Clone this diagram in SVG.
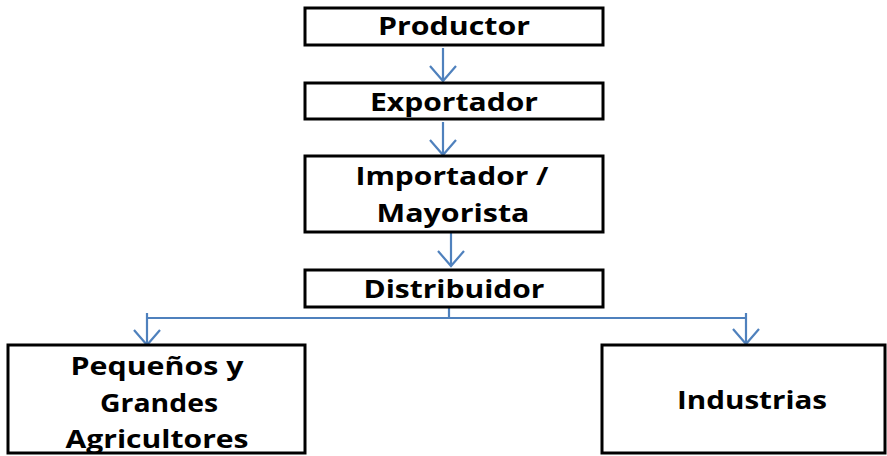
<svg xmlns="http://www.w3.org/2000/svg" width="887" height="456" viewBox="0 0 887 456">
<style>
.box{fill:#fff;stroke:#000;stroke-width:3}
.lbl{font-family:"Open Sans","Liberation Sans",sans-serif;font-weight:bold;font-size:24.5px;fill:#000;text-anchor:middle}
.con{fill:none;stroke:#4F81BD;stroke-width:2.2}
</style>
<rect width="887" height="456" fill="#fff"/>
<g id="connectors">
<path class="con" d="M443,48 V81 M430,66 L443,81 L456,66"/>
<path class="con" d="M443,122 V155 M430,140 L443,155 L456,140"/>
<path class="con" d="M451,233 V266 M438,251 L451,266 L464,251"/>
<path class="con" d="M449,307 V318 M147,318 H746"/>
<path class="con" d="M147,313 V345 M134,330 L147,345 L160,330"/>
<path class="con" d="M746,313 V344 M733,329 L746,344 L759,329"/>
</g>
<g id="productor"><rect class="box" x="305" y="8" width="298" height="37"/><text class="lbl" x="454" y="35" textLength="152" lengthAdjust="spacingAndGlyphs">Productor</text></g>
<g id="exportador"><rect class="box" x="305" y="83" width="298" height="36"/><text class="lbl" x="454" y="111" textLength="168" lengthAdjust="spacingAndGlyphs">Exportador</text></g>
<g id="importador"><rect class="box" x="305" y="156" width="298" height="76"/><text class="lbl" x="452" y="185" textLength="193" lengthAdjust="spacingAndGlyphs">Importador /</text><text class="lbl" x="453" y="222" textLength="153" lengthAdjust="spacingAndGlyphs">Mayorista</text></g>
<g id="distribuidor"><rect class="box" x="305" y="270" width="298" height="37"/><text class="lbl" x="454" y="298" textLength="181" lengthAdjust="spacingAndGlyphs">Distribuidor</text></g>
<g id="agricultores"><rect class="box" x="8" y="345" width="297" height="108"/><text class="lbl" x="157" y="375" textLength="173" lengthAdjust="spacingAndGlyphs">Pequeños y</text><text class="lbl" x="159" y="412" textLength="118" lengthAdjust="spacingAndGlyphs">Grandes</text><text class="lbl" x="157" y="448" textLength="183" lengthAdjust="spacingAndGlyphs">Agricultores</text></g>
<g id="industrias"><rect class="box" x="602" y="345" width="283" height="108"/><text class="lbl" x="752" y="409" textLength="150" lengthAdjust="spacingAndGlyphs">Industrias</text></g>
</svg>
